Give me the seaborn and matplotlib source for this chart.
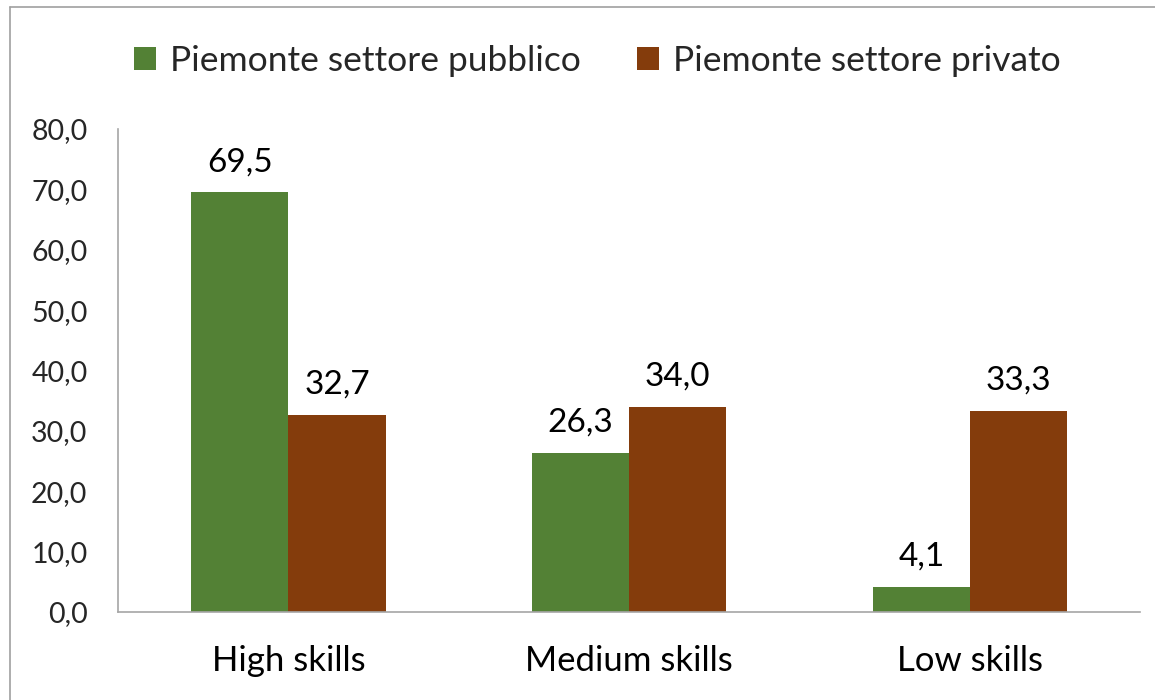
import pandas as pd
import matplotlib.pyplot as plt
import seaborn as sns
from matplotlib.lines import Line2D
from matplotlib.ticker import FuncFormatter, FixedLocator

# Data
categories = ["High skills", "Medium skills", "Low skills"]
pubblico = [69.5, 26.3, 4.1]
privato = [32.7, 34.0, 33.3]
series_names = ["Piemonte settore pubblico", "Piemonte settore privato"]
colors = ["#538135", "#843C0C"]

df = pd.DataFrame({
    "cat": categories * 2,
    "serie": [series_names[0]] * 3 + [series_names[1]] * 3,
    "val": pubblico + privato,
})

sns.set_style("white")
plt.rcParams['font.family'] = ['Lato', 'DejaVu Sans']

fig = plt.figure(figsize=(11.55, 7), dpi=100)
ax = fig.add_axes([0.1022, 0.1257, 0.885, 0.69])

sns.barplot(data=df, x="cat", y="val", hue="serie", palette=colors,
            width=0.57, saturation=1, linewidth=0, ax=ax, legend=True)

# data labels with comma decimal
for cont in ax.containers:
    ax.bar_label(cont, labels=[f"{v:.1f}".replace(".", ",") for v in cont.datavalues],
                 padding=11, fontsize=24, color="#000000")

ax.set_ylim(0, 80)
ax.set_xlim(-0.5, 2.5)
ax.set_yticks(range(0, 81, 10))
ax.yaxis.set_major_formatter(FuncFormatter(lambda v, p: f"{v:.1f}".replace(".", ",")))
ax.set_xlabel("")
ax.set_ylabel("")

ax.xaxis.set_minor_locator(FixedLocator([-0.5, 0.5, 1.5, 2.5]))
ax.tick_params(axis="x", which="major", length=0, labelsize=25, pad=24, labelcolor="#000000")
ax.tick_params(axis="x", which="minor", length=10, width=1.2, color="#A6A6A6", direction="out")
ax.tick_params(axis="y", length=7, width=1.2, color="#A6A6A6", labelsize=20.5,
               labelcolor="#262626", pad=15)

sns.despine(ax=ax)
for s in ["left", "bottom"]:
    ax.spines[s].set_color("#A6A6A6")
    ax.spines[s].set_linewidth(1.2)

ax.legend(loc="center", bbox_to_anchor=(0.5 + 20 / 1155, 1 - 61 / 700),
          bbox_transform=fig.transFigure,
          ncol=2, frameon=False, fontsize=25.5, handlelength=0.6, handleheight=0.6,
          handletextpad=0.4, columnspacing=1.6)

# screenshot frame lines
fig.add_artist(Line2D([10 / 1155, 10 / 1155], [0, 1 - 7 / 700], transform=fig.transFigure,
                      color="#A0A0A0", lw=1.2))
fig.add_artist(Line2D([10 / 1155, 1], [1 - 7 / 700, 1 - 7 / 700], transform=fig.transFigure,
                      color="#A0A0A0", lw=1.2))

fig.savefig("out.png", dpi=100)
